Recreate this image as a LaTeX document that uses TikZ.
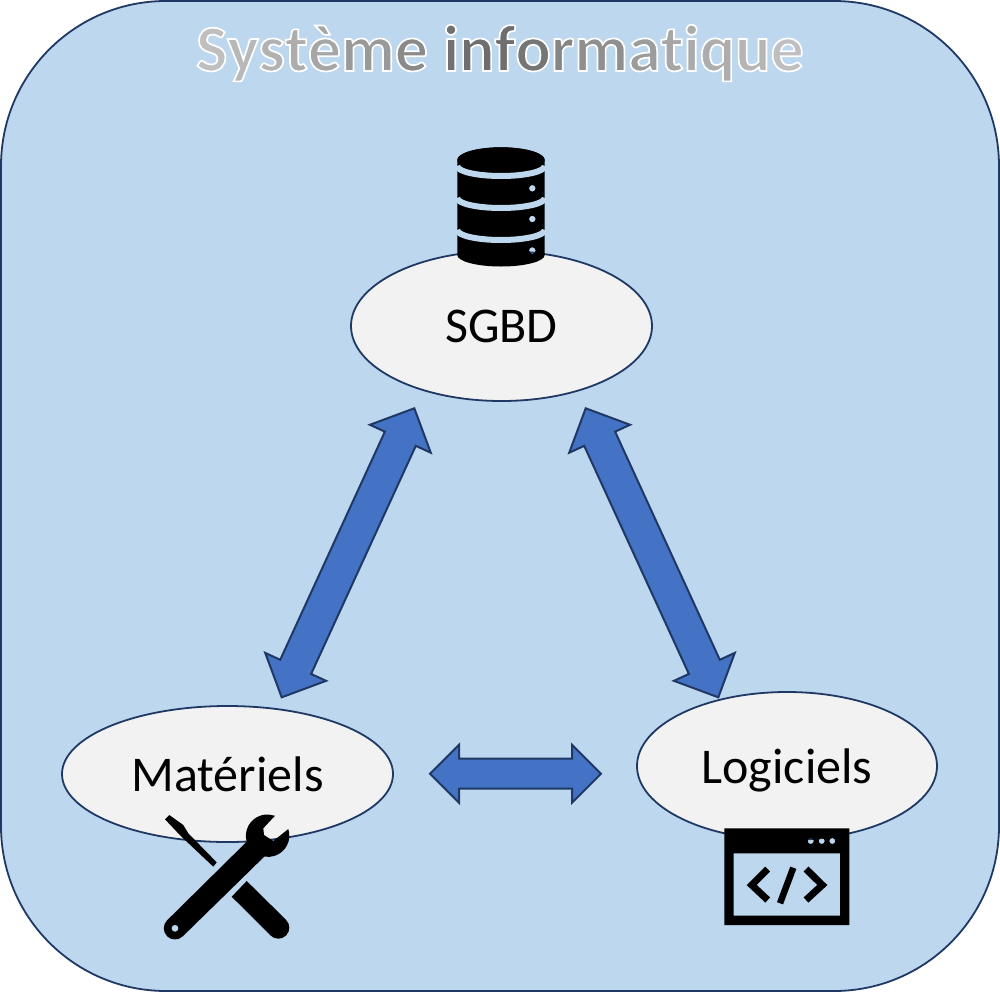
\documentclass[tikz,border=0pt]{standalone}
\usepackage{fontspec}
\setmainfont{Carlito}
\usetikzlibrary{shapes.geometric,shapes.arrows}
\definecolor{Sysfill}{RGB}{189,215,238}
\definecolor{Navy}{RGB}{31,56,100}
\definecolor{Ellfill}{RGB}{242,242,242}
\definecolor{Arrfill}{RGB}{68,114,196}
\newcommand{\tl}[2]{{\color[gray]{#1}\special{pdf:code 1 1 1 RG}#2}}
\tikzset{
  partie/.style={ellipse,draw=Navy,line width=1.8pt,fill=Ellfill,inner sep=0pt,text depth=0pt,font=\fontsize{50}{52}\selectfont},
  lien/.style={double arrow,draw=Navy,line width=2pt,fill=Arrfill,inner xsep=0pt,outer sep=0pt,double arrow tip angle=90}
}
\begin{document}
\begin{tikzpicture}[x=1pt,y=-1pt,line cap=butt]
\path[use as bounding box] (0,0) rectangle (1000,993);
\draw[draw=Navy,line width=1.8pt,fill=Sysfill,rounded corners=165pt] (1,1) rectangle (999,991);
\node (titre) [anchor=base,font=\bfseries\fontsize{66}{68}\selectfont] at (500,71) {\special{pdf:code 2 Tr 1.7 w}\tl{.75}{S}\tl{.72}{y}\tl{.70}{s}\tl{.68}{t}\tl{.65}{è}\tl{.60}{m}\tl{.54}{e} \tl{.44}{i}\tl{.43}{n}\tl{.43}{f}\tl{.46}{o}\tl{.52}{r}\tl{.56}{m}\tl{.61}{a}\tl{.65}{t}\tl{.67}{i}\tl{.68}{q}\tl{.71}{u}\tl{.75}{e}\special{pdf:code 0 Tr}};
% parties
\node (sgbd) [partie,minimum width=301pt,minimum height=150pt] at (501.5,326) {SGBD};
\node (materiels) [partie,minimum width=331pt,minimum height=136pt] at (227.5,774) {Matériels};
\node (logiciels) [partie,minimum width=300pt,minimum height=148pt] at (787,766) {Logiciels};
% liens
\node (lienSM) [lien,inner ysep=16pt,minimum height=318pt,minimum width=65pt,double arrow head extend=16.5pt,rotate=65.35] at (348,552.8) {};
\node (lienSL) [lien,inner ysep=16pt,minimum height=318pt,minimum width=65pt,double arrow head extend=16.5pt,rotate=-65.35] at (652,552.8) {};
\node (lienML) [lien,inner ysep=14pt,minimum height=171pt,minimum width=56pt,double arrow head extend=14pt] at (515.5,773.7) {};
% base de donnees
\fill[black,even odd rule] (457.3,160) arc[start angle=180,end angle=360,x radius=43.7,y radius=12.7]
  -- (544.7,255) arc[start angle=0,end angle=180,x radius=43.7,y radius=11.5] -- cycle
  (532.3,188.3) circle[radius=3.3] (532.3,219) circle[radius=3.3] (532.3,250.5) circle[radius=3.3];
\fill[black] (457.3,160) arc[start angle=180,end angle=540,x radius=43.7,y radius=12.7];
\draw[Sysfill,line width=6pt] (457.3,166) arc[start angle=180,end angle=0,x radius=43.7,y radius=10];
\draw[Sysfill,line width=6pt] (457.3,198) arc[start angle=180,end angle=0,x radius=43.7,y radius=10];
\draw[Sysfill,line width=6pt] (457.3,230) arc[start angle=180,end angle=0,x radius=43.7,y radius=10];
% outils
\fill[black] (165,819.3) -- (169.3,815) -- (183.3,825) -- (188.3,833.3) -- (216.7,862.3) -- (213.3,866.7) -- (184.3,839.3) -- (176.7,831.7) -- cycle;
\fill[black] (231.7,896.7) -- (246.7,881) -- (286.1,919.9) arc[start angle=-45,end angle=135,radius=11] -- cycle;
\fill[black,even odd rule] (275,815.7) -- (263.3,828.3) -- (264,835) -- (273.3,841) -- (288.3,829)
  arc[start angle=-18,end angle=100,radius=21.3] -- (182.9,936.2) arc[start angle=45,end angle=225,radius=11.2]
  -- (246.7,841.7) arc[start angle=164,end angle=289,radius=21.3] -- cycle
  (175,928.3) circle[radius=3.5];
% fenetre de code
\fill[black,even odd rule] (724.3,828.3) rectangle (849.3,925) (733.7,853.3) rectangle (840,915.7)
  (810.7,841) circle[radius=3] (821.7,841) circle[radius=3] (832.3,841) circle[radius=3];
\draw[black,line width=7pt] (767.7,869) -- (751.7,885) -- (767.7,900);
\draw[black,line width=7pt] (806,869) -- (822.3,885) -- (806,900);
\draw[black,line width=6.5pt] (793.3,867.7) -- (780,903.3);
\end{tikzpicture}
\end{document}
